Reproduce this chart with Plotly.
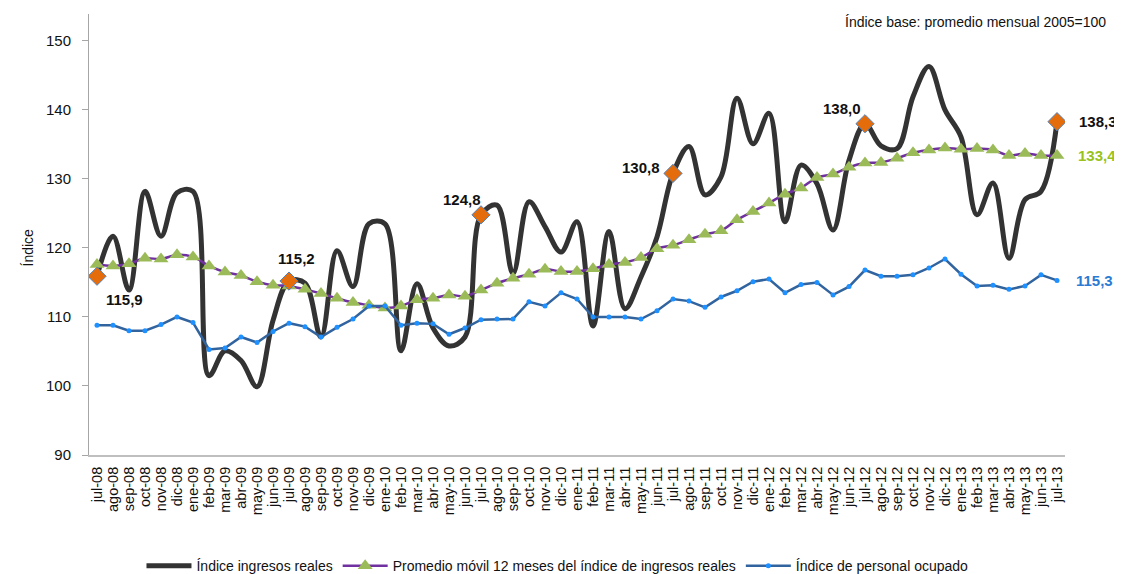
import plotly.graph_objects as go

# Eje de meses: jul-08 .. jul-13
meses = [
    "jul-08", "ago-08", "sep-08", "oct-08", "nov-08", "dic-08", "ene-09", "feb-09", "mar-09", "abr-09",
    "may-09", "jun-09", "jul-09", "ago-09", "sep-09", "oct-09", "nov-09", "dic-09", "ene-10", "feb-10",
    "mar-10", "abr-10", "may-10", "jun-10", "jul-10", "ago-10", "sep-10", "oct-10", "nov-10", "dic-10",
    "ene-11", "feb-11", "mar-11", "abr-11", "may-11", "jun-11", "jul-11", "ago-11", "sep-11", "oct-11",
    "nov-11", "dic-11", "ene-12", "feb-12", "mar-12", "abr-12", "may-12", "jun-12", "jul-12", "ago-12",
    "sep-12", "oct-12", "nov-12", "dic-12", "ene-13", "feb-13", "mar-13", "abr-13", "may-13", "jun-13",
    "jul-13",
]

ingresos_reales = [
    115.9, 121.7, 113.9, 128.2, 121.7, 128.0, 128.2, 101.5, 105.1, 103.7,
    99.9, 109.5, 115.2, 114.9, 107.1, 119.6, 114.4, 123.5, 123.5, 105.1,
    114.8, 108.4, 105.8, 107.1, 124.8, 126.2, 116.3, 126.7, 123.1, 119.4,
    123.8, 108.7, 122.4, 111.2, 115.8, 121.6, 130.8, 134.7, 127.7, 130.3,
    141.7, 135.1, 139.5, 123.8, 132.0, 129.3, 122.6, 132.7, 138.0, 134.8,
    134.4, 141.9, 146.3, 140.0, 136.1, 124.8, 129.4, 118.5, 127.0, 128.2,
    138.3,
]

promedio_movil = [
    117.6, 117.4, 117.7, 118.5, 118.4, 119.0, 118.7, 117.4, 116.5, 116.0,
    115.1, 114.6, 114.5, 114.0, 113.4, 112.7, 112.1, 111.7, 111.3, 111.6,
    112.5, 112.7, 113.2, 113.0, 113.9, 114.9, 115.6, 116.2, 116.9, 116.6,
    116.6, 117.0, 117.6, 117.9, 118.6, 119.9, 120.4, 121.2, 122.0, 122.5,
    124.1, 125.3, 126.5, 127.8, 128.7, 130.2, 130.7, 131.7, 132.3, 132.4,
    133.0, 133.8, 134.2, 134.5, 134.3, 134.4, 134.2, 133.4, 133.7, 133.4,
    133.4,
]

personal_ocupado = [
    108.8, 108.8, 108.0, 108.0, 108.9, 110.0, 109.2, 105.3, 105.5, 107.1,
    106.3, 107.9, 109.1, 108.6, 107.1, 108.5, 109.7, 111.6, 111.6, 108.8,
    109.1, 109.0, 107.5, 108.4, 109.6, 109.7, 109.7, 112.2, 111.6, 113.5,
    112.6, 110.0, 110.0, 110.0, 109.7, 110.9, 112.6, 112.3, 111.4, 112.9,
    113.8, 115.1, 115.5, 113.5, 114.7, 115.0, 113.2, 114.4, 116.8, 115.9,
    115.9, 116.1, 117.1, 118.4, 116.2, 114.5, 114.6, 114.0, 114.5, 116.1,
    115.3,
]

# meses de julio que llevan rombo y etiqueta
idx_julio = [0, 12, 24, 36, 48, 60]
# desplazamiento (px) de cada etiqueta respecto a su punto
label_shift = [(27, -23), (7, 23), (-19, 15), (-32, 6), (-23, 15), (41, 0)]

FONT = "Liberation Sans, Arial, sans-serif"


def fmt(v):
    return f"{v:.1f}".replace(".", ",")


fig = go.Figure()

fig.add_trace(go.Scatter(
    x=meses, y=ingresos_reales, name="Índice ingresos reales",
    mode="lines", line=dict(color="#333333", width=5, shape="spline", smoothing=1.0),
))
fig.add_trace(go.Scatter(
    x=meses, y=promedio_movil,
    name="Promedio móvil 12 meses del índice de ingresos reales",
    mode="lines+markers",
    line=dict(color="#7030A0", width=2.5, shape="spline", smoothing=1.0),
    marker=dict(symbol="triangle-up", size=13, color="#9BBB59"),
))
fig.add_trace(go.Scatter(
    x=meses, y=personal_ocupado, name="Índice de personal ocupado",
    mode="lines+markers",
    line=dict(color="#31649E", width=2.5),
    marker=dict(symbol="circle", size=5, color="#1E90FF"),
))
fig.add_trace(go.Scatter(
    x=[meses[i] for i in idx_julio], y=[ingresos_reales[i] for i in idx_julio],
    mode="markers", showlegend=False,
    marker=dict(symbol="diamond", size=14, color="#E46C0A", line=dict(color="#4F81BD", width=1)),
))

annotations = []
for i, (dx, dy) in zip(idx_julio, label_shift):
    annotations.append(dict(
        x=meses[i], y=ingresos_reales[i], xref="x", yref="y", text=f"<b>{fmt(ingresos_reales[i])}</b>",
        showarrow=False, xshift=dx, yshift=dy, font=dict(size=15, color="#111111", family=FONT),
    ))
annotations.append(dict(
    x=meses[-1], y=promedio_movil[-1], xref="x", yref="y", text=f"<b>{fmt(promedio_movil[-1])}</b>",
    showarrow=False, xshift=40, font=dict(size=15, color="#99C31C", family=FONT),
))
annotations.append(dict(
    x=meses[-1], y=personal_ocupado[-1], xref="x", yref="y", text=f"<b>{fmt(personal_ocupado[-1])}</b>",
    showarrow=False, xshift=37, font=dict(size=15, color="#2A7BD4", family=FONT),
))
annotations.append(dict(
    x=1.044, y=0.982, xref="paper", yref="paper", xanchor="right", yanchor="middle",
    text="Índice base: promedio mensual 2005=100", showarrow=False,
    font=dict(size=14, color="#111111", family=FONT),
))
annotations.append(dict(
    x=-0.073, y=0.47, xref="paper", yref="paper", textangle=-90,
    text="Índice", showarrow=False, font=dict(size=14, color="#111111", family=FONT),
))

# la página añade 8 px de margen al cuerpo: la figura se reduce en consecuencia
fig.update_layout(
    width=1114, height=566,
    margin=dict(l=81, r=57, t=6, b=119, autoexpand=False),
    paper_bgcolor="white", plot_bgcolor="white",
    font=dict(family=FONT, size=13, color="#111111"),
    showlegend=True,
    legend=dict(orientation="h", x=0.48, y=-0.252, xanchor="center", yanchor="middle",
                font=dict(size=14), itemwidth=45),
    annotations=annotations,
)
fig.update_xaxes(
    type="category", range=[-0.5, 60.5], tickmode="array", tickvals=meses, ticktext=meses,
    tickangle=-90, tickfont=dict(size=14.5), automargin=False, ticklabelstandoff=4,
    showline=True, linecolor="#BFBFBF", linewidth=2, showgrid=False, ticks="", zeroline=False,
)
fig.update_yaxes(
    range=[90, 153.9], tickvals=[90, 100, 110, 120, 130, 140, 150], tickfont=dict(size=15),
    automargin=False, ticklabelstandoff=8,
    showline=True, linecolor="#A6A6A6", linewidth=1, showgrid=False, ticks="outside",
    ticklen=6, tickcolor="#A6A6A6", zeroline=False,
)

fig.write_html("out.html")
